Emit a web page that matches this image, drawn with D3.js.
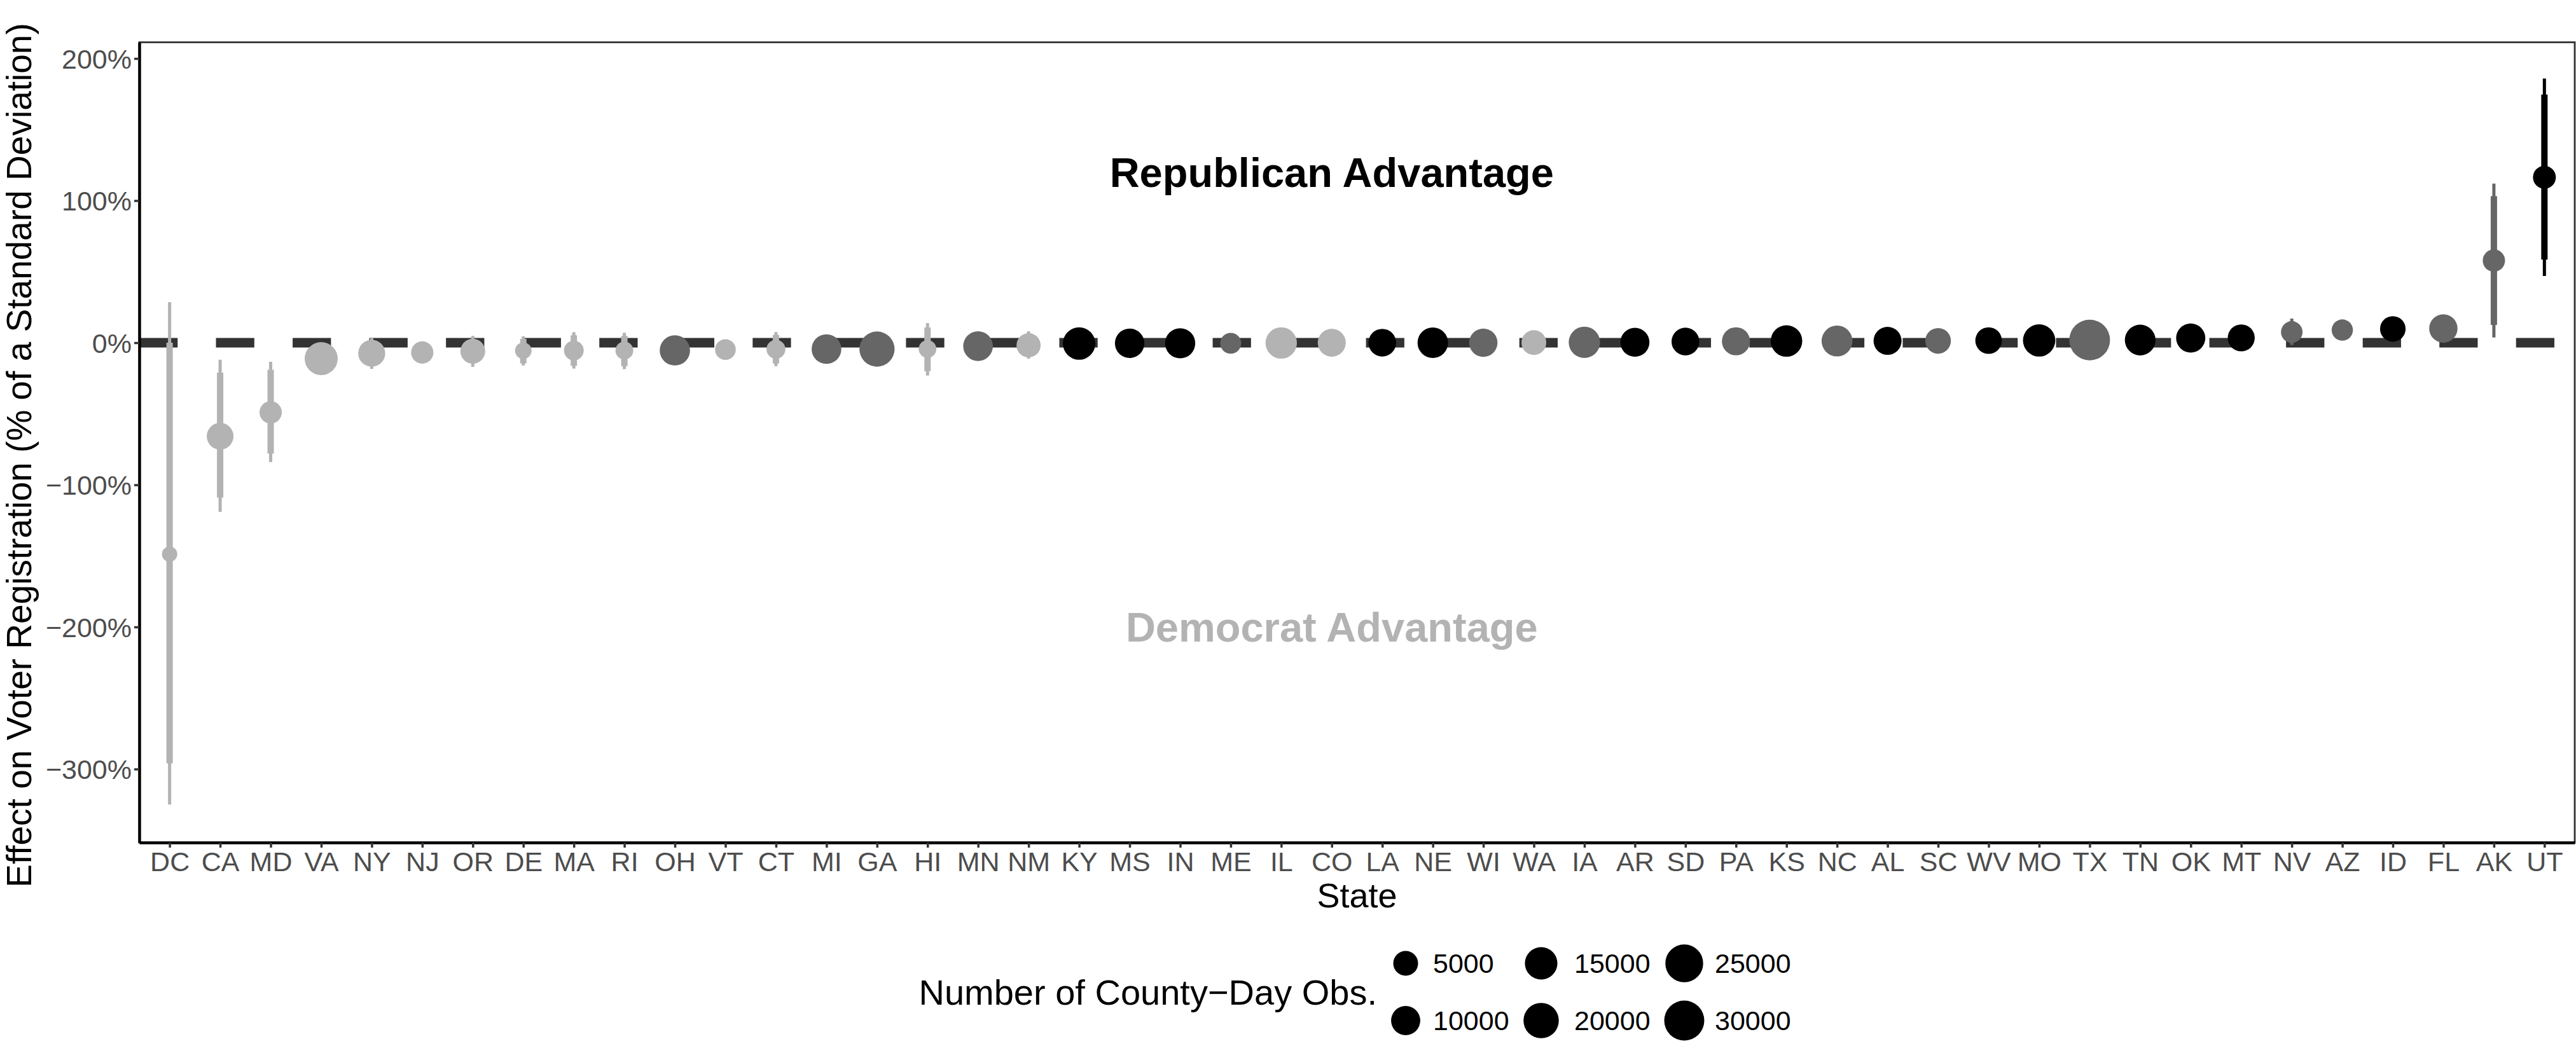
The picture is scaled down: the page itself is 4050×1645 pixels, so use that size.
<!DOCTYPE html>
<html>
<head>
<meta charset="utf-8">
<script src="https://cdn.jsdelivr.net/npm/d3@7"></script>
<style>
  body { margin: 0; background: #fff; }
  svg { display: block; }
  text { font-family: "Liberation Sans", Arial, Helvetica, sans-serif; }
</style>
</head>
<body>
<svg id="chart" width="4050" height="1645"></svg>
<script>
// ---------------- data ----------------
const states = ["DC","CA","MD","VA","NY","NJ","OR","DE","MA","RI","OH","VT","CT","MI","GA","HI","MN","NM",
  "KY","MS","IN","ME","IL","CO","LA","NE","WI","WA","IA","AR","SD","PA","KS","NC","AL","SC","WV","MO","TX",
  "TN","OK","MT","NV","AZ","ID","FL","AK","UT"];
const estimate = [-1.488,-0.658,-0.49,-0.112,-0.074,-0.069,-0.06,-0.056,-0.055,-0.055,-0.054,-0.048,-0.046,-0.045,-0.045,-0.044,-0.024,-0.018,
  -0.006,-0.004,-0.004,-0.004,-0.002,0.0,0.0,0.0,0.0,0.001,0.003,0.003,0.008,0.01,0.012,0.012,0.013,0.013,0.015,0.016,0.019,
  0.019,0.033,0.034,0.075,0.089,0.097,0.1,0.578,1.164];
const lo90 = [-2.96,-1.09,-0.78,-0.17,-0.15,-0.12,-0.145,-0.145,-0.162,-0.165,-0.11,-0.09,-0.146,-0.1,-0.1,-0.2,-0.08,-0.09,
  -0.041,-0.039,-0.039,-0.039,-0.037,-0.035,-0.035,-0.035,-0.035,-0.034,-0.032,-0.032,-0.027,-0.025,-0.023,-0.023,-0.022,-0.022,-0.02,-0.019,-0.016,
  -0.016,-0.002,-0.001,0.0,0.054,0.062,0.065,0.125,0.585];
const hi90 = [0.0,-0.21,-0.19,-0.06,0.005,-0.02,0.025,0.027,0.052,0.048,0.0,-0.01,0.055,0.01,0.01,0.107,0.03,0.055,
  0.029,0.031,0.031,0.031,0.033,0.035,0.035,0.035,0.035,0.036,0.038,0.038,0.043,0.045,0.047,0.047,0.048,0.048,0.05,0.051,0.054,
  0.054,0.068,0.069,0.15,0.124,0.132,0.135,1.031,1.746];
const lo95 = [-3.25,-1.19,-0.84,-0.19,-0.184,-0.14,-0.17,-0.16,-0.182,-0.186,-0.13,-0.1,-0.165,-0.12,-0.12,-0.231,-0.1,-0.112,
  -0.056,-0.054,-0.054,-0.054,-0.052,-0.05,-0.05,-0.05,-0.05,-0.049,-0.047,-0.047,-0.042,-0.04,-0.038,-0.038,-0.037,-0.037,-0.035,-0.034,-0.031,
  -0.031,-0.017,-0.016,-0.016,0.039,0.047,0.05,0.037,0.47];
const hi95 = [0.285,-0.12,-0.134,-0.04,0.037,0.0,0.048,0.045,0.074,0.07,0.02,0.0,0.075,0.03,0.03,0.138,0.05,0.08,
  0.044,0.046,0.046,0.046,0.048,0.05,0.05,0.05,0.05,0.051,0.053,0.053,0.058,0.06,0.062,0.062,0.063,0.063,0.065,0.066,0.069,
  0.069,0.083,0.084,0.17,0.139,0.147,0.15,1.12,1.859];
const countyDays = [50,7000,2900,15900,7300,2900,5000,230,1350,560,11600,1850,960,10700,19700,520,10700,4400,
  14900,10400,11400,2000,13200,8500,8100,11900,8900,5000,13100,9800,8200,8600,13400,12400,8500,5800,6800,14700,31500,
  12200,10000,7300,2400,2200,5750,8900,2900,3350];
const advantage = ["D","D","D","D","D","D","D","D","D","D","N","D","D","N","N","D","N","D",
  "R","R","R","N","D","D","R","R","N","D","N","R","R","N","R","N","R","N","R","R","N",
  "R","R","R","N","N","R","N","N","R"];
const yTickValues = [-3,-2,-1,0,1,2];
const sizeBreaks = [5000,10000,15000,20000,25000,30000];
const annotations = [
  {label: "Republican Advantage", state: "CO", value: 1.2, group: "R"},
  {label: "Democrat Advantage",   state: "CO", value: -2.0, group: "D"}
];

// ---------------- layout ----------------
const W = 4050, H = 1645;
const panel = {left: 219, right: 4048, top: 66.5, bottom: 1325};
const colour = {D: "#B3B3B3", N: "#666666", R: "#000000"};
const textColour = {D: "#B3B3B3", R: "#000000"};

const svg = d3.select("#chart");
svg.append("rect").attr("width", W).attr("height", H).attr("fill", "#fff");

const x = d3.scalePoint().domain(states).range([panel.left, panel.right]).padding(0.6);
const y = d3.scaleLinear().domain([-3.517, 2.114]).range([panel.bottom, panel.top]);
const size = d3.scaleSqrt().domain([0, 30000]).range([22.45, 63]); // diameter

const data = states.map((s, i) => ({
  state: s, est: estimate[i], lo90: lo90[i], hi90: hi90[i], lo95: lo95[i], hi95: hi95[i],
  n: countyDays[i], grp: advantage[i]
}));

// panel border
svg.append("rect")
  .attr("x", panel.left).attr("y", panel.top)
  .attr("width", panel.right - panel.left).attr("height", panel.bottom - panel.top)
  .attr("fill", "none").attr("stroke", "#333333").attr("stroke-width", 2.8);

const g = svg.append("g");

// zero reference line
g.append("line")
  .attr("x1", panel.left).attr("x2", panel.right)
  .attr("y1", y(0)).attr("y2", y(0))
  .attr("stroke", "#333333").attr("stroke-width", 15)
  .attr("stroke-dasharray", "60.27 60.27");

// thin (outer) intervals
g.selectAll("line.ci95").data(data).join("line").attr("class", "ci95")
  .attr("x1", d => x(d.state)).attr("x2", d => x(d.state))
  .attr("y1", d => y(d.lo95)).attr("y2", d => y(d.hi95))
  .attr("stroke", d => colour[d.grp]).attr("stroke-width", 5);

// thick (inner) intervals
g.selectAll("line.ci90").data(data).join("line").attr("class", "ci90")
  .attr("x1", d => x(d.state)).attr("x2", d => x(d.state))
  .attr("y1", d => y(d.lo90)).attr("y2", d => y(d.hi90))
  .attr("stroke", d => colour[d.grp]).attr("stroke-width", 10);

// points
g.selectAll("circle.pt").data(data).join("circle").attr("class", "pt")
  .attr("cx", d => x(d.state)).attr("cy", d => y(d.est))
  .attr("r", d => size(d.n) / 2)
  .attr("fill", d => colour[d.grp]);

// annotations
g.selectAll("text.ann").data(annotations).join("text").attr("class", "ann")
  .attr("x", d => x(d.state))
  .attr("y", d => y(d.value) + 0.358 * 65)
  .attr("text-anchor", "middle")
  .attr("font-size", 65).attr("font-weight", "bold")
  .attr("fill", d => textColour[d.group])
  .text(d => d.label);

// axes
const xAxis = svg.append("g").attr("transform", `translate(0,${panel.bottom})`)
  .call(d3.axisBottom(x).tickSize(8).tickSizeOuter(0));
const yAxis = svg.append("g").attr("transform", `translate(${panel.left},0)`)
  .call(d3.axisLeft(y).tickValues(yTickValues).tickSize(8).tickSizeOuter(0)
    .tickFormat(v => (v < 0 ? "\u2212" : "") + Math.abs(v * 100) + "%"));

[xAxis, yAxis].forEach(ax => {
  ax.select(".domain").attr("stroke", "#000").attr("stroke-width", 4.5);
  ax.selectAll(".tick line").attr("stroke", "#333333").attr("stroke-width", 3.5);
  ax.selectAll(".tick text").attr("fill", "#4D4D4D").attr("font-size", 43)
    .attr("font-family", "'Liberation Sans', Arial, Helvetica, sans-serif");
});
xAxis.selectAll(".tick text").attr("y", 45).attr("dy", null);
yAxis.selectAll(".tick text").attr("x", -12).attr("dy", "0.358em");

// axis titles
svg.append("text")
  .attr("x", (panel.left + panel.right) / 2).attr("y", 1427)
  .attr("text-anchor", "middle").attr("font-size", 54).attr("fill", "#000")
  .text("State");
svg.append("text")
  .attr("transform", `translate(49,716) rotate(-90)`)
  .attr("text-anchor", "middle").attr("font-size", 55).attr("fill", "#000")
  .text("Effect on Voter Registration (% of a Standard Deviation)");

// legend
const legend = svg.append("g");
legend.append("text")
  .attr("x", 2165).attr("y", 1580)
  .attr("text-anchor", "end").attr("font-size", 56).attr("fill", "#000")
  .text("Number of County\u2212Day Obs.");
const colX = [2210, 2423, 2648];
const labelOffset = [43, 52, 48];
const rowY = [1515, 1605];
const keys = legend.selectAll("g.key").data(sizeBreaks).join("g").attr("class", "key");
keys.append("circle")
  .attr("cx", (d, i) => colX[Math.floor(i / 2)])
  .attr("cy", (d, i) => rowY[i % 2])
  .attr("r", d => size(d) / 2)
  .attr("fill", "#000");
keys.append("text")
  .attr("x", (d, i) => colX[Math.floor(i / 2)] + labelOffset[Math.floor(i / 2)])
  .attr("y", (d, i) => rowY[i % 2] + 0.358 * 43)
  .attr("font-size", 43).attr("fill", "#000")
  .text(d => d);
</script>
</body>
</html>
